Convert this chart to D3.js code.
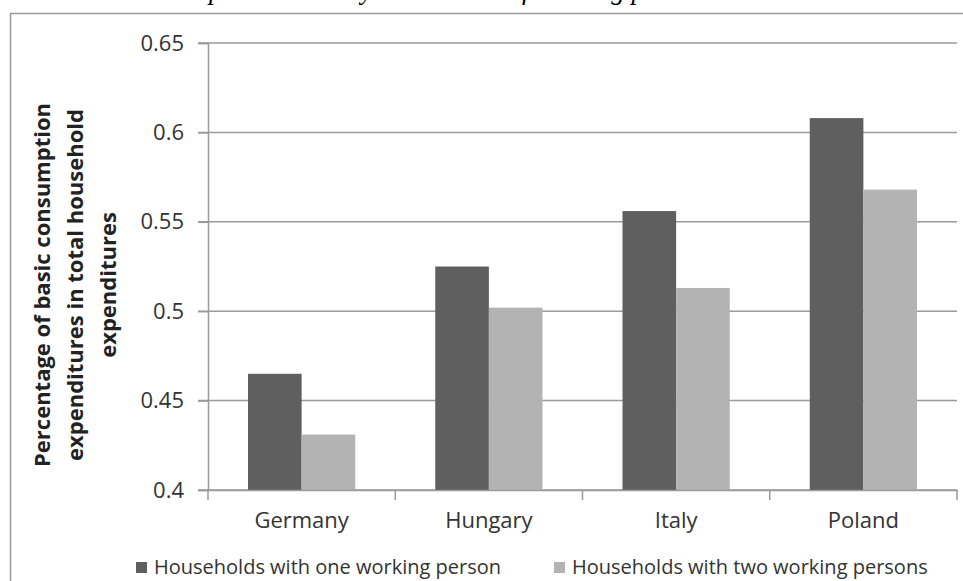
<!DOCTYPE html>
<html>
<head>
<meta charset="utf-8">
<script src="https://cdn.jsdelivr.net/npm/d3@7"></script>
<style>
  body { margin: 0; background: #fff; }
  svg { display: block; }
</style>
</head>
<body>
<svg width="963" height="581"></svg>
<script>
var countries = ["Germany", "Hungary", "Italy", "Poland"];
var seriesNames = ["Households with one working person", "Households with two working persons"];
var oneWorker = [0.465, 0.525, 0.556, 0.608];
var twoWorkers = [0.431, 0.502, 0.513, 0.568];
var yTicks = [0.4, 0.45, 0.5, 0.55, 0.6, 0.65];
var colors = ["#5f5f5f", "#b3b3b3"];

var svg = d3.select("svg");
var plotLeft = 208, plotRight = 957, plotTop = 43, plotBottom = 490;
var font = "'Open Sans'";

// caption above the frame, mostly cut off by the page edge
svg.append("text")
  .attr("x", 418)
  .attr("y", -1)
  .attr("text-anchor", "middle")
  .style("font-family", "Liberation Serif")
  .style("font-style", "italic")
  .style("font-size", "27px")
  .text("Consumption shares by the number of working persons");

// frame
svg.append("rect")
  .attr("x", 10.5).attr("y", 13.5)
  .attr("width", 970).attr("height", 600)
  .style("fill", "#fff")
  .style("stroke", "#9a9a9a")
  .style("stroke-width", 1.5);

var x0 = d3.scaleBand().domain(countries).range([plotLeft, plotRight]);
var x1 = d3.scaleBand().domain([0, 1]).range([40, x0.bandwidth() - 40]);
var y = d3.scaleLinear().domain([0.4, 0.65]).range([plotBottom, plotTop]);

// gridlines
svg.append("g")
  .selectAll("line")
  .data(yTicks)
  .enter().append("line")
  .attr("x1", plotLeft - 10).attr("x2", plotRight)
  .attr("y1", function (d) { return y(d); })
  .attr("y2", function (d) { return y(d); })
  .style("stroke", "#9a9a9a")
  .style("stroke-width", 1.5);

// y axis
var yAxis = svg.append("g")
  .attr("transform", "translate(" + plotLeft + ",0)")
  .call(d3.axisLeft(y).tickValues(yTicks).tickSize(10).tickPadding(14).tickFormat(d3.format("")));
yAxis.select(".domain").style("stroke", "#9a9a9a").style("stroke-width", 1.5);
yAxis.selectAll(".tick line").style("stroke", "#9a9a9a").style("stroke-width", 1.5);
yAxis.selectAll("text")
  .style("font-family", font)
  .style("font-size", "22px")
  .style("fill", "#333");

// bars
var groups = svg.append("g")
  .selectAll("g")
  .data(countries)
  .enter().append("g")
  .attr("transform", function (d) { return "translate(" + x0(d) + ",0)"; });

groups.selectAll("rect")
  .data(function (d, i) { return [oneWorker[i], twoWorkers[i]]; })
  .enter().append("rect")
  .attr("x", function (d, j) { return x1(j); })
  .attr("y", function (d) { return y(d); })
  .attr("width", x1.bandwidth())
  .attr("height", function (d) { return y(0.4) - y(d); })
  .style("fill", function (d, j) { return colors[j]; });

// x axis
var xAxis = svg.append("g")
  .attr("transform", "translate(0," + plotBottom + ")")
  .call(d3.axisBottom(x0).tickSize(0).tickPadding(22));
xAxis.select(".domain").style("stroke", "#9a9a9a").style("stroke-width", 1.5);
xAxis.selectAll("text")
  .style("font-family", font)
  .style("font-size", "22px")
  .style("fill", "#333");

// ticks between categories
var bounds = countries.map(function (c) { return x0(c); }).concat([plotRight]);
svg.append("g")
  .selectAll("line")
  .data(bounds)
  .enter().append("line")
  .attr("x1", function (d) { return d; }).attr("x2", function (d) { return d; })
  .attr("y1", plotBottom).attr("y2", plotBottom + 10)
  .style("stroke", "#9a9a9a")
  .style("stroke-width", 1.5);

// y title
var yTitle = svg.append("text")
  .attr("transform", "translate(50,285)rotate(-90)")
  .attr("text-anchor", "middle")
  .style("font-family", font)
  .style("font-weight", "bold")
  .style("font-size", "22px")
  .style("fill", "#222");
["Percentage of basic consumption", "expenditures in total household", "expenditures"].forEach(function (t, i) {
  yTitle.append("tspan").attr("x", 0).attr("dy", i === 0 ? 0 : 33).text(t);
});

// legend
var legendX = [136, 554];
var legend = svg.append("g")
  .selectAll("g")
  .data(seriesNames)
  .enter().append("g")
  .attr("transform", function (d, i) { return "translate(" + legendX[i] + ",562)"; });
legend.append("rect")
  .attr("width", 11).attr("height", 11)
  .style("fill", function (d, i) { return colors[i]; });
legend.append("text")
  .attr("x", 18).attr("y", 12)
  .style("font-family", font)
  .style("font-size", "20px")
  .style("fill", "#333")
  .text(function (d) { return d; });
</script>
</body>
</html>
